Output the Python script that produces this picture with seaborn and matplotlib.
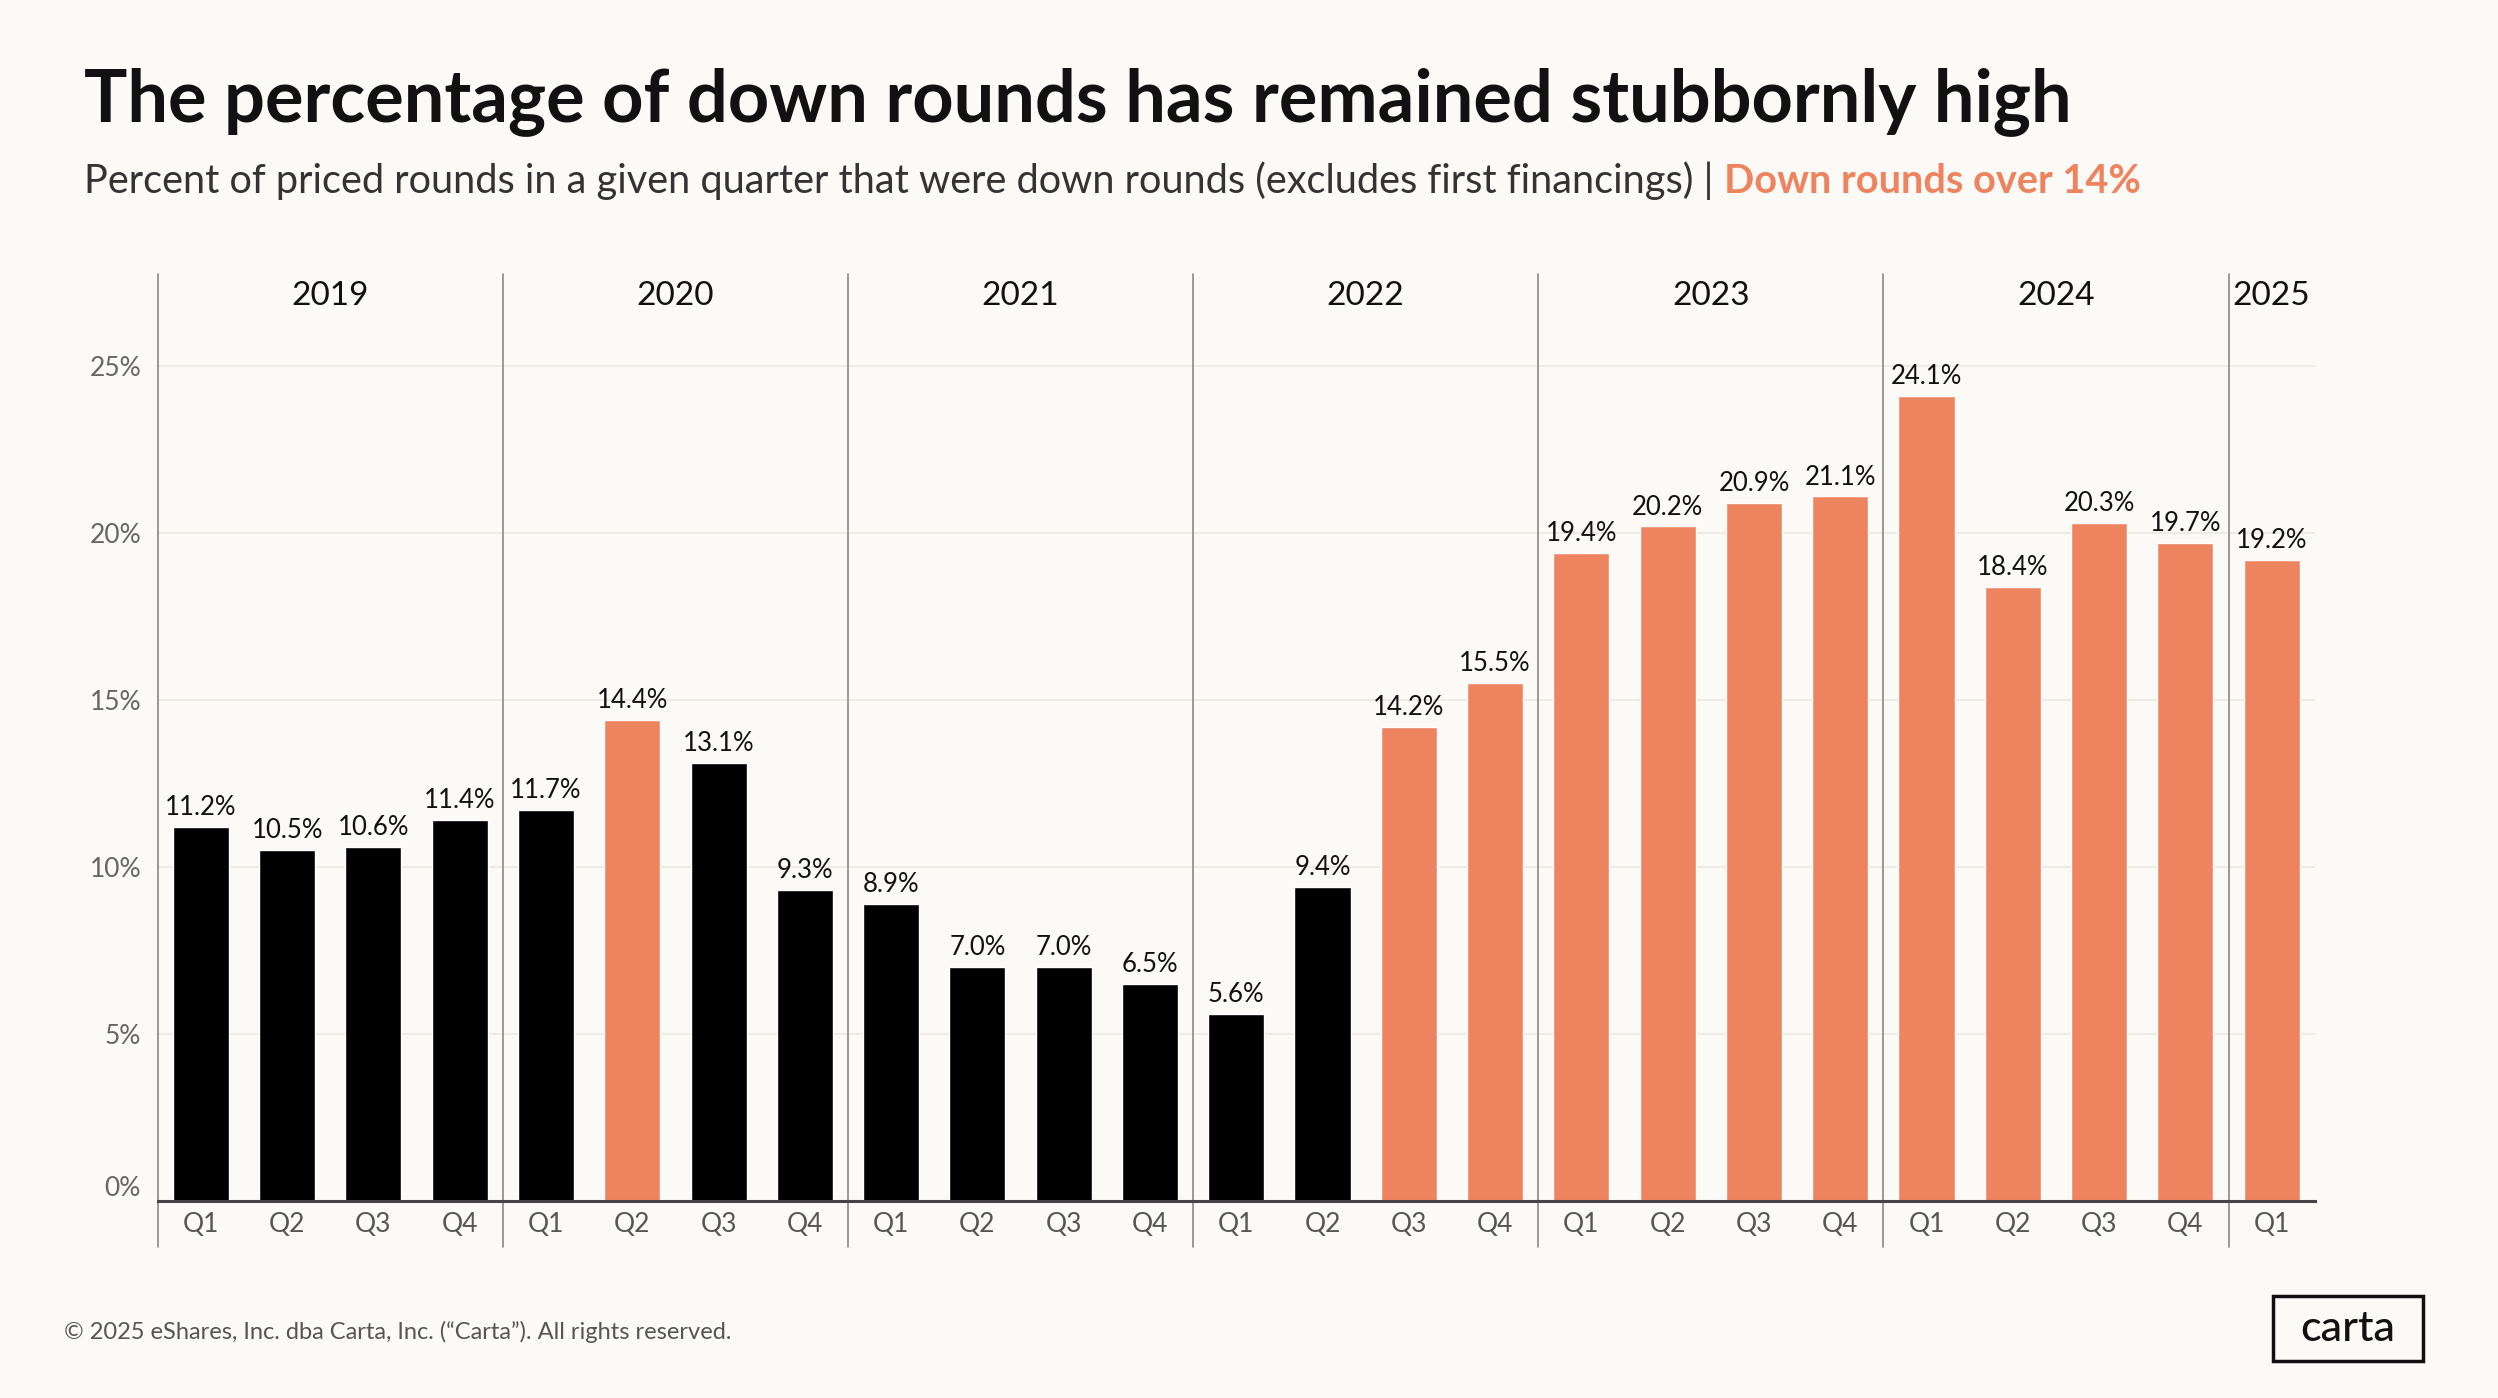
import matplotlib
matplotlib.use("Agg")
import matplotlib.pyplot as plt
from matplotlib.patches import Rectangle
import seaborn as sns
import pandas as pd

# ---- data ----
years = ["2019", "2020", "2021", "2022", "2023", "2024", "2025"]
quarters = ["Q1", "Q2", "Q3", "Q4", "Q1", "Q2", "Q3", "Q4", "Q1", "Q2", "Q3", "Q4",
            "Q1", "Q2", "Q3", "Q4", "Q1", "Q2", "Q3", "Q4", "Q1", "Q2", "Q3", "Q4", "Q1"]
quarter_years = ["2019"] * 4 + ["2020"] * 4 + ["2021"] * 4 + ["2022"] * 4 + ["2023"] * 4 + ["2024"] * 4 + ["2025"]
down_pct = [11.2, 10.5, 10.6, 11.4,
            11.7, 14.4, 13.1, 9.3,
            8.9, 7.0, 7.0, 6.5,
            5.6, 9.4, 14.2, 15.5,
            19.4, 20.2, 20.9, 21.1,
            24.1, 18.4, 20.3, 19.7,
            19.2]
threshold = 14.0
y_ticks = [0, 5, 10, 15, 20, 25]

BG = "#FCFAF6"
ORANGE = "#EE845F"
BLACK = "#000000"

df = pd.DataFrame({
    "period": [f"{y} {q}" for y, q in zip(quarter_years, quarters)],
    "year": quarter_years,
    "quarter": quarters,
    "value": down_pct,
})
df["high"] = df["value"] > threshold

sns.set_theme(style="white")
plt.rcParams["font.family"] = ["Lato", "DejaVu Sans"]

fig = plt.figure(figsize=(24.98, 13.98), dpi=100, facecolor=BG)
W, H = 1568.0, 878.0  # reference display coords
ax = fig.add_axes([99 / W, 1 - 754 / H, (1453 - 99) / W, (754 - 172) / H])
ax.set_facecolor(BG)

sns.barplot(data=df, x="period", y="value", hue="high", order=list(df["period"]),
            palette={False: BLACK, True: ORANGE}, dodge=False, width=0.65,
            legend=False, ax=ax, saturation=1)

ax.set_xlim(-0.5, len(df) - 0.5)
ax.set_ylim(0, 27.77)
ax.set_axisbelow(True)
ax.set_yticks(y_ticks)
ax.set_yticklabels([f"{t}%" for t in y_ticks], fontsize=19, color="#666666")
ax.tick_params(axis="y", length=0, pad=12)
ax.get_yticklabels()[0].set_va("bottom")
ax.yaxis.grid(True, color="#EEEBE5", lw=1.5)
ax.set_xticks([])
ax.set_xlabel("")
ax.set_ylabel("")
for s in ["top", "right", "left"]:
    ax.spines[s].set_visible(False)
ax.spines["bottom"].set_color("#444444")
ax.spines["bottom"].set_linewidth(2.2)
ax.spines["bottom"].set_zorder(5)

# value labels
for cont in ax.containers:
    ax.bar_label(cont, fmt="{:.1f}%", padding=5, fontsize=18.5, color="#111111")

# quarter labels
trans = ax.get_xaxis_transform()
for i, q in enumerate(df["quarter"]):
    ax.text(i, -0.026, q, transform=trans, ha="center", va="center",
            fontsize=19, color="#555555", clip_on=False)

# year separators and year labels
positions = list(range(len(df)))
starts = [i for i in positions if i == 0 or df["year"][i] != df["year"][i - 1]]
for s in starts:
    ax.plot([s - 0.5, s - 0.5], [-0.05, 1.0], transform=trans, color="#888888",
            lw=1.2, clip_on=False, zorder=1)
for y in years:
    idx = [i for i in positions if df["year"][i] == y]
    xc = (idx[0] + idx[-1]) / 2
    ax.text(xc, 0.976, y, transform=trans, ha="center", va="center",
            fontsize=24, color="#111111", clip_on=False)

# title & subtitle
fig.text(53 / W, 1 - 76 / H, "The percentage of down rounds has remained stubbornly high",
         fontsize=52, fontweight="bold", color="#111111", ha="left", va="baseline")
sub1 = fig.text(53 / W, 1 - 121 / H,
                "Percent of priced rounds in a given quarter that were down rounds (excludes first financings) | ",
                fontsize=28.6, color="#333333", ha="left", va="baseline")
fig.canvas.draw()
r = fig.canvas.get_renderer()
bb = sub1.get_window_extent(renderer=r)
fig.text(bb.x1 / fig.bbox.width, 1 - 121 / H, "Down rounds over 14%",
         fontsize=28.6, fontweight="bold", color=ORANGE, ha="left", va="baseline")

# footer
fig.text(40 / W, 1 - 841 / H,
         "\u00a9 2025 eShares, Inc. dba Carta, Inc. (\u201cCarta\u201d). All rights reserved.",
         fontsize=17, color="#555555", ha="left", va="baseline")

# logo box
fig.patches.append(Rectangle((1427 / W, 1 - 855 / H), (1521 - 1427) / W, (855 - 814) / H,
                             transform=fig.transFigure, fill=False, edgecolor="#111111", lw=2.5))
fig.text((1427 + 1521) / 2 / W, 1 - 834.5 / H, "carta", fontsize=31, fontweight="medium",
         color="#111111", ha="center", va="center")

fig.savefig("out.png", dpi=100, facecolor=BG)
